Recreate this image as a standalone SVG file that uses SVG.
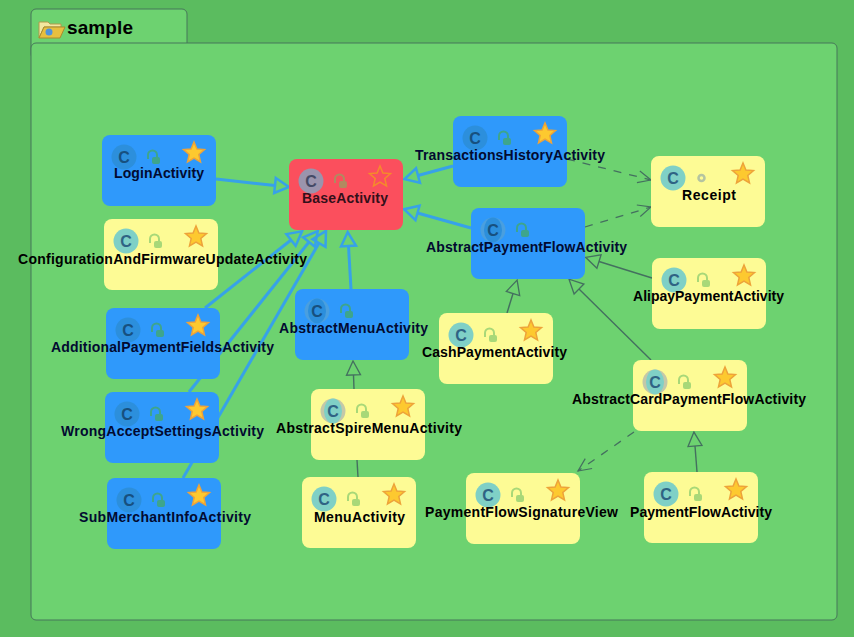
<svg xmlns="http://www.w3.org/2000/svg" width="854" height="637" viewBox="0 0 854 637">
<style>
.panel{fill:#6dd270;stroke:#47775a;stroke-width:1}
.box{width:114px;height:71px;rx:8px;ry:8px}
.blue .box{fill:#2f99fb}.yellow .box{fill:#fdfb95}.red .box{fill:#fb4f5d}
.ic{r:12.5px}
.blue .ic{fill:#2c8fdc}.yellow .ic{fill:#7fd0c6}.red .ic{fill:#9a94ad}
.yellow .side{fill:#c4c8a8}.blue .side{fill:#4a9fdf}
.inner{fill:#7fd0c6}.blue .inner{fill:#2c8fdc}
.c{font:bold 16px "Liberation Sans",sans-serif;text-anchor:middle;fill:#2f6384}
.blue .c{fill:#17507f}.red .c{fill:#454a66}
.lbl{font:bold 14px "Liberation Sans",sans-serif;fill:#000}
.blue .lbl{fill:#020a30}.red .lbl{fill:#33101a}
.yellow{color:#a8d878}.blue{color:#3ea58c}.red{color:#b08a60}
.star{fill:#fdc92f;stroke:#eda33a;stroke-width:1.5}
.hollow{fill:none;stroke:#f58a2b;stroke-width:1.5}
.inh{fill:none;stroke:#37a2e8;stroke-width:3}
.imp{fill:none;stroke:#44705f;stroke-width:1.4}
.dash{fill:none;stroke:#44705f;stroke-width:1.3;stroke-dasharray:8 8}
</style>
<defs>
<marker id="tb" markerUnits="userSpaceOnUse" markerWidth="20" markerHeight="20" refX="2" refY="10" orient="auto"><path d="M2 2.500L16 10L2 17.500Z" fill="none" stroke="#37a2e8" stroke-width="2.500"/></marker>
<marker id="td" markerUnits="userSpaceOnUse" markerWidth="20" markerHeight="20" refX="2" refY="10" orient="auto"><path d="M2 3L16 10L2 17Z" fill="none" stroke="#44705f" stroke-width="1.300"/></marker>
<marker id="op" markerUnits="userSpaceOnUse" markerWidth="20" markerHeight="20" refX="15" refY="10" orient="auto"><path d="M2 4L15 10L2 16" fill="none" stroke="#44705f" stroke-width="1.200"/></marker>
<g id="lock"><path fill="none" stroke="currentColor" stroke-width="2" d="M46 24V20a4.500 4.500 0 0 1 9 0V22"/><rect fill="currentColor" x="50" y="22" width="8" height="7" rx="2"/></g>
<polygon id="st" class="star" points="92,7 94.900,14 102.500,14.600 96.800,19.500 98.500,26.900 92,23 85.500,26.900 87.200,19.500 81.500,14.600 89.100,14"/>
</defs>
<rect width="854" height="637" fill="#5bbc5f"/>
<g id="sample">
<rect class="panel" x="31" y="9" width="156" height="50" rx="5"/>
<rect class="panel" x="31" y="43" width="806" height="577" rx="5"/>
<path d="M39 22h9l2 2h11v3H44l-5 11Z" fill="#f3e6a0" stroke="#b09a4a"/>
<path d="M44 27h21l-5 11H39Z" fill="#e7bf3f" stroke="#a98a30"/>
<circle cx="49" cy="32" r="3.500" fill="#4f92dc"/>
<text x="67" y="34" style="font:bold 19px 'Liberation Sans',sans-serif" fill="#000" textLength="66">sample</text>
</g>
<g id="connectors">
<path class="inh" d="M216 179L275 185.500" marker-end="url(#tb)"/>
<path class="inh" d="M453 166L418 175.500" marker-end="url(#tb)"/>
<path class="inh" d="M471 228L417.500 213" marker-end="url(#tb)"/>
<path class="inh" d="M205 308L291 240" marker-end="url(#tb)"/>
<path class="inh" d="M189 392L309 242" marker-end="url(#tb)"/>
<path class="inh" d="M183 478L319 243" marker-end="url(#tb)"/>
<path class="inh" d="M351 289L348.500 246" marker-end="url(#tb)"/>
<path class="imp" d="M354 389L353.500 375" marker-end="url(#td)"/>
<path class="imp" d="M358 477L357 460"/>
<path class="imp" d="M507 313L513 293.500" marker-end="url(#td)"/>
<path class="imp" d="M652 278L599 261.500" marker-end="url(#td)"/>
<path class="imp" d="M651 360L579 289" marker-end="url(#td)"/>
<path class="imp" d="M697 472L695 446" marker-end="url(#td)"/>
<path class="dash" d="M567 159L651 180" marker-end="url(#op)"/>
<path class="dash" d="M585 227L651 207" marker-end="url(#op)"/>
<path class="dash" d="M634 432L578 471" marker-end="url(#op)"/>
</g>
<g id="LoginActivity" class="blue" transform="translate(102,135)"><rect class="box"/><circle class="ic" cx="22" cy="22"/><text class="c" x="22" y="28">C</text><use href="#lock"/><use href="#st"/><text class="lbl" x="12" y="43" textLength="90">LoginActivity</text></g>
<g id="BaseActivity" class="red" transform="translate(289,159)"><rect class="box"/><circle class="ic" cx="22" cy="22"/><text class="c" x="22" y="28">C</text><use href="#lock"/><polygon class="hollow" points="91,7 93.900,14 101.500,14.600 95.800,19.500 97.500,26.900 91,23 84.500,26.900 86.200,19.500 80.500,14.600 88.100,14"/><text class="lbl" x="13" y="44" textLength="86">BaseActivity</text></g>
<g id="TransactionsHistoryActivity" class="blue" transform="translate(453,116)"><rect class="box"/><circle class="ic" cx="22" cy="22"/><text class="c" x="22" y="28">C</text><use href="#lock"/><use href="#st"/><text class="lbl" x="-38" y="44" textLength="190">TransactionsHistoryActivity</text></g>
<g id="Receipt" class="yellow" transform="translate(651,156)"><rect class="box"/><circle class="ic" cx="22" cy="22"/><text class="c" x="22" y="28">C</text><circle cx="50.500" cy="22" r="3" fill="none" stroke="#b5c4a0" stroke-width="2.500"/><use href="#st"/><text class="lbl" x="31" y="44" textLength="54">Receipt</text></g>
<g id="AbstractPaymentFlowActivity" class="blue" transform="translate(471,208)"><rect class="box"/><circle class="ic side" cx="22" cy="22"/><ellipse class="inner" cx="22" cy="22" rx="9" ry="12.500"/><text class="c" x="22" y="28">C</text><use href="#lock"/><text class="lbl" x="-45" y="44" textLength="201">AbstractPaymentFlowActivity</text></g>
<g id="ConfigurationAndFirmwareUpdateActivity" class="yellow" transform="translate(104,219)"><rect class="box"/><circle class="ic" cx="22" cy="22"/><text class="c" x="22" y="28">C</text><use href="#lock"/><use href="#st"/><text class="lbl" x="-86" y="45" textLength="289">ConfigurationAndFirmwareUpdateActivity</text></g>
<g id="AbstractMenuActivity" class="blue" transform="translate(295,289)"><rect class="box"/><circle class="ic side" cx="22" cy="22"/><ellipse class="inner" cx="22" cy="22" rx="9" ry="12.500"/><text class="c" x="22" y="28">C</text><use href="#lock"/><text class="lbl" x="-16" y="44" textLength="149">AbstractMenuActivity</text></g>
<g id="AlipayPaymentActivity" class="yellow" transform="translate(652,258)"><rect class="box"/><circle class="ic" cx="22" cy="22"/><text class="c" x="22" y="28">C</text><use href="#lock"/><use href="#st"/><text class="lbl" x="-19" y="43" textLength="151">AlipayPaymentActivity</text></g>
<g id="AdditionalPaymentFieldsActivity" class="blue" transform="translate(106,308)"><rect class="box"/><circle class="ic" cx="22" cy="22"/><text class="c" x="22" y="28">C</text><use href="#lock"/><use href="#st"/><text class="lbl" x="-55" y="44" textLength="223">AdditionalPaymentFieldsActivity</text></g>
<g id="CashPaymentActivity" class="yellow" transform="translate(439,313)"><rect class="box"/><circle class="ic" cx="22" cy="22"/><text class="c" x="22" y="28">C</text><use href="#lock"/><use href="#st"/><text class="lbl" x="-17" y="44" textLength="145">CashPaymentActivity</text></g>
<g id="AbstractCardPaymentFlowActivity" class="yellow" transform="translate(633,360)"><rect class="box"/><circle class="ic side" cx="22" cy="22"/><ellipse class="inner" cx="22" cy="22" rx="9" ry="12.500"/><text class="c" x="22" y="28">C</text><use href="#lock"/><use href="#st"/><text class="lbl" x="-61" y="44" textLength="234">AbstractCardPaymentFlowActivity</text></g>
<g id="WrongAcceptSettingsActivity" class="blue" transform="translate(105,392)"><rect class="box"/><circle class="ic" cx="22" cy="22"/><text class="c" x="22" y="28">C</text><use href="#lock"/><use href="#st"/><text class="lbl" x="-44" y="44" textLength="203">WrongAcceptSettingsActivity</text></g>
<g id="AbstractSpireMenuActivity" class="yellow" transform="translate(311,389)"><rect class="box"/><circle class="ic side" cx="22" cy="22"/><ellipse class="inner" cx="22" cy="22" rx="9" ry="12.500"/><text class="c" x="22" y="28">C</text><use href="#lock"/><use href="#st"/><text class="lbl" x="-35" y="44" textLength="186">AbstractSpireMenuActivity</text></g>
<g id="SubMerchantInfoActivity" class="blue" transform="translate(107,478)"><rect class="box"/><circle class="ic" cx="22" cy="22"/><text class="c" x="22" y="28">C</text><use href="#lock"/><use href="#st"/><text class="lbl" x="-28" y="44" textLength="172">SubMerchantInfoActivity</text></g>
<g id="MenuActivity" class="yellow" transform="translate(302,477)"><rect class="box"/><circle class="ic" cx="22" cy="22"/><text class="c" x="22" y="28">C</text><use href="#lock"/><use href="#st"/><text class="lbl" x="12" y="45" textLength="91">MenuActivity</text></g>
<g id="PaymentFlowSignatureView" class="yellow" transform="translate(466,473)"><rect class="box"/><circle class="ic" cx="22" cy="22"/><text class="c" x="22" y="28">C</text><use href="#lock"/><use href="#st"/><text class="lbl" x="-41" y="44" textLength="193">PaymentFlowSignatureView</text></g>
<g id="PaymentFlowActivity" class="yellow" transform="translate(644,472)"><rect class="box"/><circle class="ic" cx="22" cy="22"/><text class="c" x="22" y="28">C</text><use href="#lock"/><use href="#st"/><text class="lbl" x="-14" y="45" textLength="142">PaymentFlowActivity</text></g>
</svg>
